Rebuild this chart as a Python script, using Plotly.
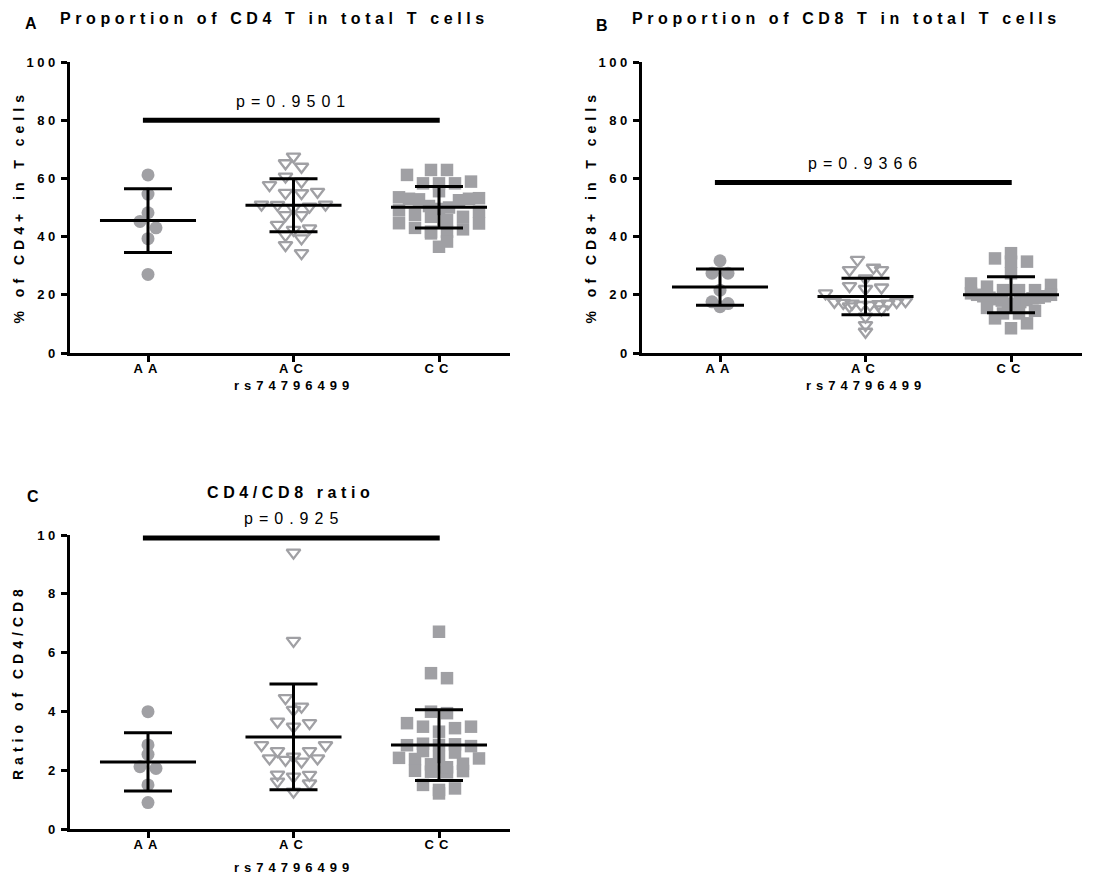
import numpy as np
import plotly.graph_objects as go

# ---------------------------------------------------------------
# Data: T-cell subsets by rs74796499 genotype
# ---------------------------------------------------------------
genotypes = ["AA", "AC", "CC"]

# % CD4+ of total T cells
cd4_AA = [61.2, 54.6, 48.2, 43.0, 45.2, 39.3, 27.0]
cd4_AC = [67.5, 65.2, 64.0, 60.6, 58.9, 57.7, 55.4, 55.0, 54.9, 51.0, 51.0, 50.9,
          50.3, 49.8, 47.4, 47.4, 42.3, 42.8, 40.5, 39.4, 37.1, 34.3, 44.0]
cd4_CC = [61.2, 62.9, 62.9, 58.3, 58.3, 58.3, 58.9, 55.6, 53.2, 53.0, 53.5, 52.8,
          53.0, 52.5, 50.5, 50.0, 49.5, 48.5, 46.8, 44.5, 44.6, 45.7, 46.8, 41.7,
          41.1, 42.5, 43.0, 41.7, 36.5, 38.3, 47.5, 49.0]

# % CD8+ of total T cells
cd8_AA = [31.7, 27.4, 27.4, 21.6, 17.6, 15.9, 17.0]
cd8_AC = [32.0, 29.3, 28.5, 28.5, 25.6, 23.0, 22.0, 22.5, 20.5, 17.0, 16.5, 16.0,
          17.8, 17.2, 16.8, 17.0, 17.6, 17.5, 16.5, 12.5, 9.6, 7.3, 15.0]
cd8_CC = [32.5, 31.4, 34.3, 31.4, 27.4, 23.4, 21.6, 21.6, 21.6, 22.8, 23.9, 20.0,
          19.5, 19.0, 19.5, 20.5, 18.5, 18.0, 18.8, 17.5, 18.2, 17.0, 16.5, 13.6,
          11.9, 10.2, 13.6, 8.5, 15.5, 19.0, 20.0, 14.5]

# CD4/CD8 ratio
ratio_AA = [3.99, 2.86, 2.54, 2.12, 2.06, 1.50, 0.90]
ratio_AC = [9.40, 6.40, 4.45, 4.05, 4.16, 3.60, 3.48, 3.65, 2.85, 2.65, 2.65, 2.85,
            2.46, 2.40, 2.29, 2.35, 2.40, 1.84, 1.61, 1.85, 1.55, 1.78, 1.27]
ratio_CC = [6.71, 5.13, 5.30, 3.99, 3.94, 3.31, 3.60, 3.48, 3.43, 3.48, 2.86, 2.90,
            2.82, 2.88, 2.85, 2.40, 2.45, 2.38, 2.42, 2.20, 2.22, 1.95, 1.97, 1.93,
            1.98, 1.38, 1.21, 1.33, 1.50, 2.60, 2.65, 2.10]

p_values = ["p=0.9501", "p=0.9366", "p=0.925"]

# ---------------------------------------------------------------
# Layout geometry (pixels)
# ---------------------------------------------------------------
W, H = 1097, 895
FONT = "Arial, 'Liberation Sans', sans-serif"
GREY = "#a0a0a4"
CAT_STEP = 145.5          # px between genotype columns
FIRST_CAT = 78            # px from the y axis to the first column

panels = [
    dict(key="A", xa="x", ya="y", left=70, right=510, top=62, bottom=353,
         ymax=100, dtick=20, data=[cd4_AA, cd4_AC, cd4_CC], pbar=80,
         xtitle_gap=32, title="Proportion of CD4 T in total T cells",
         ytitle="% of CD4+ in T cells"),
    dict(key="B", xa="x2", ya="y2", left=642, right=1082, top=62, bottom=353,
         ymax=100, dtick=20, data=[cd8_AA, cd8_AC, cd8_CC], pbar=58.6,
         xtitle_gap=32, title="Proportion of CD8 T in total T cells",
         ytitle="% of CD8+ in T cells"),
    dict(key="C", xa="x3", ya="y3", left=70, right=510, top=535, bottom=829,
         ymax=10, dtick=2, data=[ratio_AA, ratio_AC, ratio_CC], pbar=9.9,
         xtitle_gap=38, title="CD4/CD8 ratio", ytitle="Ratio of CD4/CD8"),
]

symbols = [
    dict(symbol="circle", size=13, color=GREY, line=dict(width=0)),
    dict(symbol="triangle-down-open", size=12, color=GREY, line=dict(width=2.3, color=GREY)),
    dict(symbol="square", size=12.5, color=GREY, line=dict(width=0)),
]


def spaced(text, px):
    return f'<span style="letter-spacing:{px}px">{text}</span>'


def dot_offsets(values, px_per_unit, bin_px=12.0, step=16.0, max_width=80.0):
    """Column scatter layout: values are binned by height; inside each bin the
    points are spread sideways from the centre outwards, lowest value first."""
    ys = np.asarray(values, float) * px_per_unit
    bins = np.floor(ys / bin_px).astype(int)
    offs = np.zeros(len(ys))
    for b in np.unique(bins):
        idx = np.where(bins == b)[0]
        idx = idx[np.argsort(ys[idx])]
        n = len(idx)
        s = step if n < 2 else min(step, max_width / (n - 1))
        slots = sorted(np.arange(n) - (n - 1) / 2, key=lambda v: (abs(v), v < 0))
        for k, i in enumerate(idx):
            offs[i] = slots[k] * s
    return offs


fig = go.Figure()
annotations = []
shapes = []
layout_axes = {}

for p, pv in zip(panels, p_values):
    px_per_unit = (p["bottom"] - p["top"]) / p["ymax"]
    for ci, vals in enumerate(p["data"]):
        offs = dot_offsets(vals, px_per_unit) / CAT_STEP
        fig.add_trace(go.Scatter(
            x=ci + offs, y=vals, mode="markers", xaxis=p["xa"], yaxis=p["ya"],
            marker=symbols[ci], showlegend=False, hoverinfo="y"))
    # mean line and SD error bars
    for ci, vals in enumerate(p["data"]):
        m = float(np.mean(vals))
        sd = float(np.std(vals, ddof=1))
        fig.add_trace(go.Scatter(
            x=[ci - 0.33, ci + 0.33], y=[m, m], mode="lines", xaxis=p["xa"], yaxis=p["ya"],
            line=dict(color="black", width=3), showlegend=False, hoverinfo="skip"))
        fig.add_trace(go.Scatter(
            x=[ci], y=[m], mode="markers", xaxis=p["xa"], yaxis=p["ya"],
            marker=dict(size=1, color="rgba(0,0,0,0)"),
            error_y=dict(type="data", array=[sd], symmetric=True, color="black",
                         thickness=3, width=24),
            showlegend=False, hoverinfo="skip"))

    # significance bar
    shapes.append(dict(type="line", xref=p["xa"], yref=p["ya"], x0=-0.035, x1=2.005,
                       y0=p["pbar"], y1=p["pbar"], line=dict(color="black", width=5)))

    xr = [-FIRST_CAT / CAT_STEP, (p["right"] - p["left"] - FIRST_CAT) / CAT_STEP]
    xid = p["xa"].replace("x", "xaxis")
    yid = p["ya"].replace("y", "yaxis")
    tickfont = dict(family=FONT, size=13, color="black", weight="bold")
    layout_axes[xid] = dict(
        domain=[p["left"] / W, p["right"] / W], range=xr, anchor=p["ya"],
        tickmode="array", tickvals=[0, 1, 2], ticktext=[spaced(g, 5) for g in genotypes],
        showline=True, linecolor="black", linewidth=2.5, ticks="outside",
        ticklen=6, tickwidth=2.5, tickcolor="black", tickfont=tickfont,
        ticklabelstandoff=-4,
        showgrid=False, zeroline=False, fixedrange=True, automargin=False)
    yticks = list(np.arange(0, p["ymax"] + 1e-9, p["dtick"]))
    layout_axes[yid] = dict(
        domain=[1 - p["bottom"] / H, 1 - p["top"] / H], range=[0, p["ymax"]],
        anchor=p["xa"], tickmode="array", tickvals=yticks,
        ticktext=[spaced(f"{t:g}", 3.5) for t in yticks],
        showline=True, linecolor="black", linewidth=2.5, ticks="outside",
        ticklen=6, tickwidth=2.5, tickcolor="black", tickfont=tickfont,
        showgrid=False, zeroline=False, fixedrange=True, automargin=False)

    cx = p["left"] + FIRST_CAT + CAT_STEP  # centre column (px)
    # p-value label
    pbar_px = p["bottom"] - p["pbar"] * px_per_unit
    annotations.append(dict(
        x=cx / W, y=1 - (pbar_px - 19) / H, xref="paper", yref="paper",
        text=spaced(pv, 6), showarrow=False, xanchor="center", yanchor="middle",
        font=dict(family=FONT, size=16, color="black")))
    # x axis title
    annotations.append(dict(
        x=cx / W, y=1 - (p["bottom"] + p["xtitle_gap"]) / H, xref="paper", yref="paper",
        text=spaced("rs74796499", 5), showarrow=False, xanchor="center", yanchor="middle",
        font=dict(family=FONT, size=13, color="black", weight="bold")))
    # y axis title
    annotations.append(dict(
        x=(p["left"] - 52) / W, y=1 - ((p["top"] + p["bottom"]) / 2) / H,
        xref="paper", yref="paper", text=spaced(p["ytitle"], 5), textangle=-90,
        showarrow=False, xanchor="center", yanchor="middle",
        font=dict(family=FONT, size=14, color="black", weight="bold")))

# panel titles and letters
annotations += [
    dict(x=31 / W, y=1 - 24 / H, text="A", xanchor="center", yanchor="middle"),
    dict(x=58 / W, y=1 - 18.5 / H, text=spaced(panels[0]["title"], 4.6), xanchor="left", yanchor="middle"),
    dict(x=602 / W, y=1 - 25 / H, text="B", xanchor="center", yanchor="middle"),
    dict(x=630 / W, y=1 - 18.5 / H, text=spaced(panels[1]["title"], 4.6), xanchor="left", yanchor="middle"),
    dict(x=33 / W, y=1 - 496 / H, text="C", xanchor="center", yanchor="middle"),
    dict(x=290 / W, y=1 - 492 / H, text=spaced(panels[2]["title"], 4.6), xanchor="center", yanchor="middle"),
]
for a in annotations[-6:]:
    a.update(xref="paper", yref="paper", showarrow=False,
             font=dict(family=FONT, size=16, color="black", weight="bold"))

fig.update_layout(
    width=W, height=H, autosize=False, margin=dict(l=0, r=0, t=0, b=0, pad=0),
    paper_bgcolor="white", plot_bgcolor="white",
    annotations=annotations, shapes=shapes, **layout_axes)

fig.write_html("out.html")
